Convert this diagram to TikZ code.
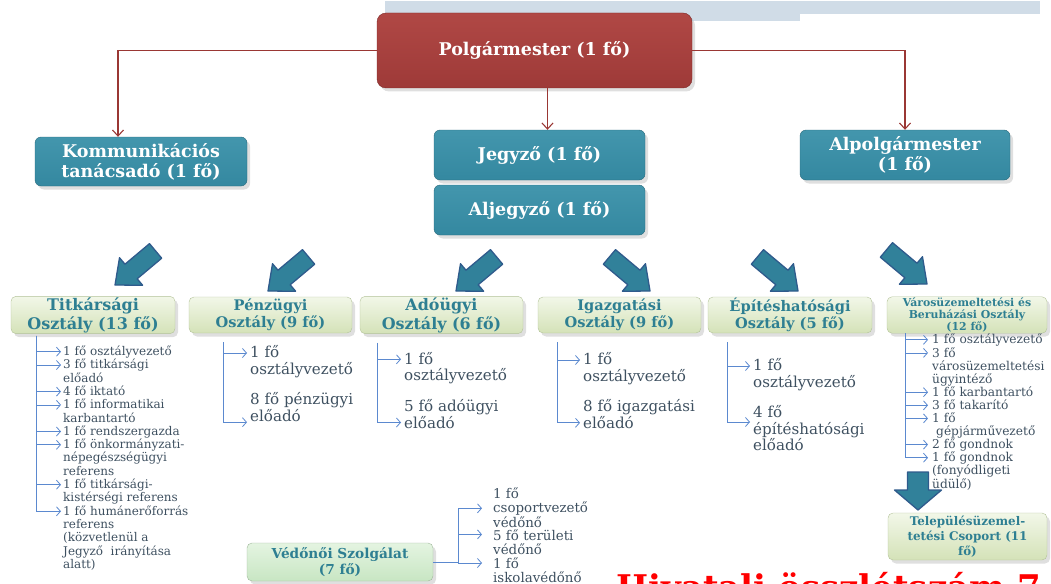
\documentclass[tikz,border=0pt]{standalone}
\usepackage{fontspec}
\setmainfont{DejaVu Serif}
\usetikzlibrary{arrows.meta,shadows}

\definecolor{topbar}{HTML}{D0DCE7}
\definecolor{polgred}{HTML}{9E3A38}
\definecolor{polgtop}{HTML}{B04845}
\definecolor{polgedge}{HTML}{7C2927}
\definecolor{redline}{HTML}{9A3734}
\definecolor{tealfill}{HTML}{3488A0}
\definecolor{tealtop}{HTML}{4396AD}
\definecolor{tealedge}{HTML}{2A6A7C}
\definecolor{arrowteal}{HTML}{31819A}
\definecolor{arrowedge}{HTML}{2F5B8C}
\definecolor{greentop}{HTML}{F2F7E8}
\definecolor{greenbot}{HTML}{D4E2B8}
\definecolor{greenedge}{HTML}{B3C299}
\definecolor{headtext}{HTML}{2E7F92}
\definecolor{vedotop}{HTML}{E4F4E1}
\definecolor{vedobot}{HTML}{C8E6C3}
\definecolor{listline}{HTML}{5B89CF}
\definecolor{listtext}{HTML}{3E5060}

\newcommand{\listS}{\fontsize{12}{13.3}\selectfont}
\newcommand{\listM}{\fontsize{15.1}{16.5}\selectfont}
\newcommand{\listU}{\fontsize{12.2}{13.1}\selectfont}
\newcommand{\listV}{\fontsize{13.4}{14.2}\selectfont}

\tikzset{
  boxshadow/.style={drop shadow={shadow xshift=3pt,shadow yshift=-3.5pt,opacity=.25}},
  redbox/.style={draw=polgedge, top color=polgtop, bottom color=polgred,
    rounded corners=9pt, text=white, boxshadow,
    font=\fontsize{17.5}{20}\selectfont\bfseries},
  tealbox/.style={draw=tealedge, top color=tealtop, bottom color=tealfill,
    rounded corners=6pt, text=white, align=center, boxshadow,
    minimum width=211pt, minimum height=50pt, inner sep=1pt,
    font=\fontsize{17.5}{20}\selectfont\bfseries},
  deptbox/.style={draw=greenedge, top color=greentop, bottom color=greenbot,
    rounded corners=5pt, text=headtext, align=center, boxshadow,
    minimum width=163pt, minimum height=36pt, inner sep=1pt},
  redlink/.style={draw=redline, line width=1.1pt,
    -{Straight Barb[length=6pt,width=11pt]}},
  branch/.style={draw=listline, line width=.8pt,
    -{Straight Barb[length=4pt,width=9pt]}},
  listln/.style={draw=listline, line width=.8pt},
  item/.style={anchor=north west, inner sep=0pt, align=left,
    text=listtext, execute at begin node=\strut},
  arrowbody/.style={fill=arrowteal, draw=arrowedge, line width=1.3pt,
    line join=round},
  bigarrow/.pic={
    \path[arrowbody] (-53,-9.5) -- (-21,-9.5) -- (-21,-18) -- (0,0)
      -- (-21,18) -- (-21,9.5) -- (-53,9.5) -- cycle;},
  droparrow/.pic={
    \path[arrowbody] (-38,-10.5) -- (-20,-10.5) -- (-20,-23.5) -- (0,0)
      -- (-20,23.5) -- (-20,10.5) -- (-38,10.5) -- cycle;}
}

\begin{document}
\begin{tikzpicture}[x=1pt,y=-1pt]
    \useasboundingbox (0,0) rectangle (1051,583);
    \clip (0,0) rectangle (1051,583);
    \fill[topbar] (385,1) rectangle (1040,14);
    \fill[topbar] (385,14) rectangle (800,21);

    % vezetes
    \node[redbox, minimum width=315pt, minimum height=75pt] (polg) at (534.5,50.5) {Polgármester (1 fő)};
    \node[tealbox, minimum width=212pt, minimum height=49pt] (komm) at (141,161.5) {Kommunikációs\\tanácsadó (1 fő)};
    \node[tealbox] (jegy) at (539.5,155) {Jegyző (1 fő)};
    \node[tealbox] (aljegy) at (539.5,210) {Aljegyző (1 fő)};
    \node[tealbox, minimum width=210pt] (alpolg) at (905,155) {Alpolgármester\\(1 fő)};

    \coordinate (jtop) at ([xshift=8pt]jegy.north);
    \draw[redlink] (polg.west) -| ([xshift=-23pt]komm.north);
    \draw[redlink] (polg.east) -| (alpolg.north);
    \draw[redlink] (polg.south -| jtop) -- (jtop);

    % nagy nyilak
    \foreach \x/\y/\r in {115/285/220, 268/291/220, 456/291/220,
                          650/291/-40, 798/291/-40, 927/284/-40}
        {\pic[rotate=\r] at (\x,\y) {bigarrow};}

    % osztalyok
    \node[deptbox, minimum width=164pt, font=\fontsize{16}{19}\selectfont\bfseries] (tit) at (93,315) {Titkársági\\Osztály (13 fő)};
    \node[deptbox, font=\fontsize{14.6}{17}\selectfont\bfseries] (penz) at (270.5,315) {Pénzügyi\\Osztály (9 fő)};
    \node[deptbox, font=\fontsize{15.9}{19}\selectfont\bfseries] (ado) at (441.5,315) {Adóügyi\\Osztály (6 fő)};
    \node[deptbox, font=\fontsize{14.6}{17}\selectfont\bfseries] (igaz) at (619.5,315) {Igazgatási\\Osztály (9 fő)};
    \node[deptbox, minimum width=164pt, font=\fontsize{14.6}{17}\selectfont\bfseries] (epit) at (790,315) {Építéshatósági\\Osztály (5 fő)};
    \node[deptbox, minimum width=160pt, font=\fontsize{10.9}{12}\selectfont\bfseries] (varos) at (967,315) {Városüzemeltetési és\\Beruházási Osztály\\(12 fő)};
    \node[deptbox, minimum width=159pt, minimum height=47pt, font=\fontsize{11.9}{15}\selectfont\bfseries] (telep) at (967.5,536.5) {Településüzemel-\\tetési Csoport (11\\fő)};
    \node[deptbox, top color=vedotop, bottom color=vedobot, draw=vedobot!80!black, minimum width=186pt, minimum height=38pt, font=\fontsize{13.7}{16}\selectfont\bfseries] (vedo) at (340,562) {Védőnői Szolgálat\\(7 fő)};

    % Titkarsagi Osztaly
    \coordinate (titv) at ([xshift=-57pt,yshift=-2pt]tit.south);
    \foreach \k/\t in {0/{1 fő osztályvezető}, 1/{3 fő titkársági\\előadó},
                       3/{4 fő iktató}, 4/{1 fő informatikai\\karbantartó},
                       6/{1 fő rendszergazda},
                       7/{1 fő önkormányzati-\\népegészségügyi\\referens},
                       10/{1 fő titkársági-\\kistérségi referens},
                       12/{1 fő humánerőforrás\\referens\\(közvetlenül a\\Jegyző~ irányítása\\alatt)}}
        {\node[item, font=\listS] (tit\k) at (63,345.7+13.3*\k) {\t};
         \draw[branch] (titv) |- ([xshift=-2pt,yshift=-6pt]tit\k.north west);}

    % Penzugyi, Adougyi, Igazgatasi, Epiteshatosagi
    \coordinate (penzv) at ([xshift=-47.5pt,yshift=-9pt]penz.south);
    \node[item, font=\listM] (penz1) at (250,345.6) {1 fő\\osztályvezető};
    \node[item, font=\listM] (penz2) at (250,392.6) {8 fő pénzügyi\\előadó};
    \draw[branch] (penzv) |- ([xshift=-3pt,yshift=-7.4pt]penz1.north west);
    \draw[branch] (penzv) |- ([xshift=-3pt,yshift=-29.6pt]penz2.north west);

    \coordinate (adov) at ([xshift=-64.5pt,yshift=-9pt]ado.south);
    \node[item, font=\listM] (ado1) at (404,351.9) {1 fő\\osztályvezető};
    \node[item, font=\listM] (ado2) at (404,399.3) {5 fő adóügyi\\előadó};
    \draw[branch] (adov) |- ([xshift=-3pt,yshift=-7.4pt]ado1.north west);
    \draw[branch] (adov) |- ([xshift=-3pt,yshift=-23.2pt]ado2.north west);

    \coordinate (igazv) at ([xshift=-62.5pt,yshift=-9pt]igaz.south);
    \node[item, font=\listM] (igaz1) at (583,352.6) {1 fő\\osztályvezető};
    \node[item, font=\listM] (igaz2) at (583,399.3) {8 fő igazgatási\\előadó};
    \draw[branch] (igazv) |- ([xshift=-3pt,yshift=-7.4pt]igaz1.north west);
    \draw[branch] (igazv) |- ([xshift=-3pt,yshift=-23.5pt]igaz2.north west);

    \coordinate (epitv) at ([xshift=-63pt,yshift=-9pt]epit.south);
    \node[item, font=\listM] (epit1) at (753,358.6) {1 fő\\osztályvezető};
    \node[item, font=\listM] (epit2) at (753,405.3) {4 fő\\építéshatósági\\előadó};
    \draw[branch] (epitv) |- ([xshift=-3pt,yshift=-7.4pt]epit1.north west);
    \draw[branch] (epitv) |- ([xshift=-3pt,yshift=-16.7pt]epit2.north west);

    % Varosuzemeltetesi es Beruhazasi Osztaly
    \coordinate (varosv) at ([xshift=-62pt]varos.south);
    \foreach \k/\t in {0/{1 fő osztályvezető}, 1/{3 fő\\városüzemeltetési\\ügyintéző},
                       4/{1 fő karbantartó}, 5/{3 fő takarító},
                       6/{1 fő\\\hspace{4pt}gépjárművezető}, 8/{2 fő gondnok},
                       9/{1 fő gondnok\\(fonyódligeti\\üdülő)}}
        {\node[item, font=\listU] (varos\k) at (932,334+13.1*\k) {\t};
         \draw[branch] (varosv) |- ([xshift=-4pt,yshift=-5.8pt]varos\k.north west);}
    \pic at (918,510) [rotate=270] {droparrow};

    % Vedonoi Szolgalat
    \coordinate (vedov) at ([xshift=25pt]vedo.east);
    \draw[listln] (vedo.east) -- (vedov);
    \node[item, font=\listV] (vedo1) at (493,487.7) {1 fő\\csoportvezető\\védőnő};
    \node[item, font=\listV] (vedo2) at (493,529.4) {5 fő területi\\védőnő};
    \node[item, font=\listV] (vedo3) at (493,557.7) {1 fő\\iskolavédőnő};
    \draw[branch] (vedov) |- ([xshift=-11pt,yshift=-20.6pt]vedo1.north west);
    \draw[branch] (vedov) |- ([xshift=-11pt,yshift=-5pt]vedo2.north west);
    \draw[branch] (vedov) |- ([xshift=-11pt,yshift=-5.3pt]vedo3.north west);

    \node[anchor=base west, inner sep=0pt, text=red, font=\fontsize{34}{40}\selectfont\bfseries] (osszes) at (616,599) {Hivatali összlétszám 7};
\end{tikzpicture}
\end{document}
